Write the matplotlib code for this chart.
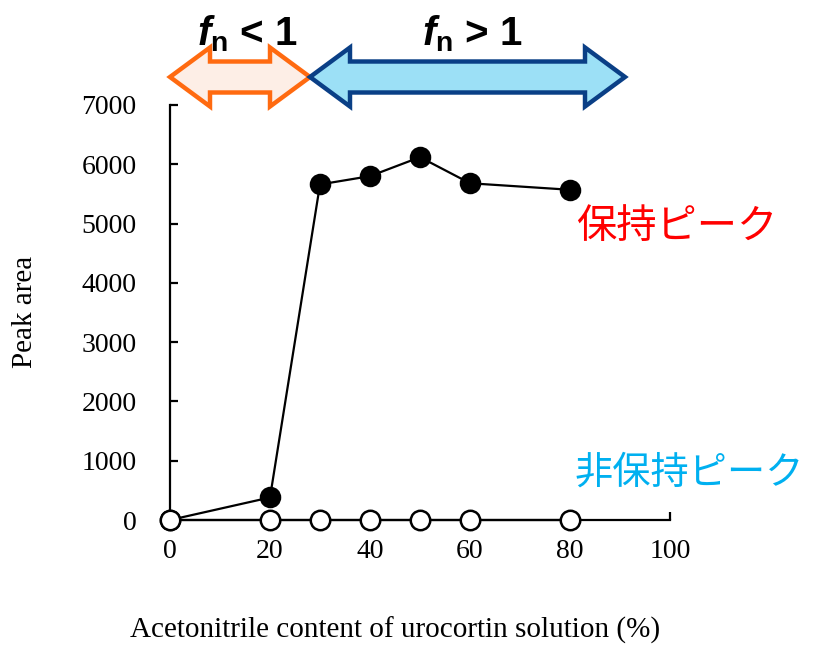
import matplotlib
matplotlib.use("Agg")
import matplotlib.pyplot as plt
from matplotlib.patches import Polygon
import matplotlib.transforms as mtransforms

# ---- data ----
acetonitrile = [0, 20, 30, 40, 50, 60, 80]
retained_peak = [0, 380, 5660, 5800, 6120, 5680, 5570]
nonretained_peak = [0, 0, 0, 0, 0, 0, 0]
x_ticks = [0, 20, 40, 60, 80, 100]
y_ticks = [0, 1000, 2000, 3000, 4000, 5000, 6000, 7000]
region_bounds = [0, 28, 91]   # fn<1 region, fn>1 region (x in data units)

plt.rcParams['mathtext.fontset'] = 'custom'
plt.rcParams['mathtext.rm'] = 'Liberation Sans:bold'
plt.rcParams['mathtext.it'] = 'Liberation Sans:bold:italic'
plt.rcParams['mathtext.bf'] = 'Liberation Sans:bold'

fig = plt.figure(figsize=(8.13, 6.46), dpi=100)
ax = fig.add_axes([170/813, 126/646, 500/813, 415/646])

serif = 'Liberation Serif'

ax.plot(acetonitrile, retained_peak, color='black', lw=1.6, marker='o',
        markersize=14, markerfacecolor='black', markeredgecolor='black',
        markeredgewidth=1.5, zorder=3, clip_on=False)
ax.plot(acetonitrile, nonretained_peak, color='black', lw=1.6, marker='o',
        markersize=14, markerfacecolor='white', markeredgecolor='black',
        markeredgewidth=1.8, zorder=4, clip_on=False)

ax.set_xlim(0, 100)
ax.set_ylim(0, 7000)
ax.set_xticks(x_ticks)
ax.set_yticks(y_ticks)
ax.spines['top'].set_visible(False)
ax.spines['right'].set_visible(False)
for s in ('left', 'bottom'):
    ax.spines[s].set_linewidth(1.6)
ax.tick_params(axis='both', direction='in', length=6, width=1.6,
               labelsize=20)
ax.tick_params(axis='y', pad=24)
ax.tick_params(axis='x', pad=14)
for lab in ax.get_xticklabels() + ax.get_yticklabels():
    lab.set_fontfamily(serif)

ax.set_xlabel('Acetonitrile content of urocortin solution (%)',
              fontfamily=serif, fontsize=21)
ax.xaxis.set_label_coords((395 - 170)/500, -(630 - 520)/415)
ax.xaxis.label.set_va('center')
ax.set_ylabel('Peak area', fontfamily=serif, fontsize=21)
ax.yaxis.set_label_coords(-(170 - 25)/500, (520 - 312)/415)
ax.yaxis.label.set_va('center')

# Japanese labels
ax.text(81.2, 4950, '保持ピーク', color='#FF0000', fontsize=29,
        fontfamily=['Noto Sans CJK JP', 'DejaVu Sans'], va='center',
        ha='left', clip_on=False)
ax.text(80.8, 790, '非保持ピーク', color='#00B0F0', fontsize=27.5,
        fontfamily=['Noto Sans CJK JP', 'DejaVu Sans'], va='center',
        ha='left', clip_on=False)

# double arrows above the axes
trans = mtransforms.blended_transform_factory(ax.transData, ax.transAxes)
c = 1 + 28/415
hs = 15.5/415
hh = 29.5/415
L = 8.0

def double_arrow(x0, x1, face, edge):
    pts = [(x0, c), (x0+L, c+hh), (x0+L, c+hs), (x1-L, c+hs), (x1-L, c+hh),
           (x1, c), (x1-L, c-hh), (x1-L, c-hs), (x0+L, c-hs), (x0+L, c-hh)]
    p = Polygon(pts, closed=True, facecolor=face, edgecolor=edge, lw=3.2,
                joinstyle='miter', transform=trans, clip_on=False, zorder=5)
    ax.add_patch(p)

double_arrow(region_bounds[0], region_bounds[1], '#FDEEE6', '#FF6A10')
double_arrow(region_bounds[1], region_bounds[2], '#9CE0F6', '#0A3F86')

yb = 1 + (105 - 45)/415
ax.text((region_bounds[0]+region_bounds[1])/2 + 1.5, yb,
        r'$f_{\mathrm{n}}$ < 1', transform=trans, ha='center', va='baseline',
        fontsize=29, fontweight='bold', fontfamily='Liberation Sans', zorder=6)
ax.text((region_bounds[1]+region_bounds[2])/2 + 1, yb,
        r'$f_{\mathrm{n}}$ > 1', transform=trans, ha='center', va='baseline',
        fontsize=29, fontweight='bold', fontfamily='Liberation Sans', zorder=6)

fig.savefig('out.png', dpi=100)
